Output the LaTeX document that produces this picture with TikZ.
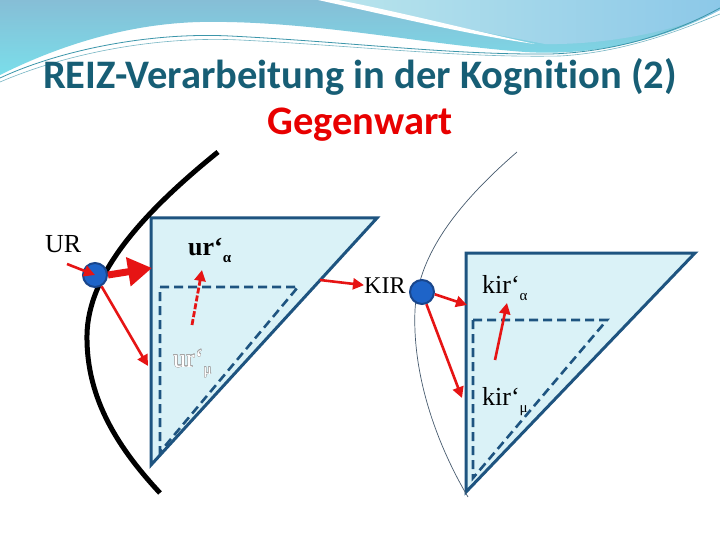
\documentclass[tikz,border=0pt]{standalone}
\usepackage{fontspec}
\setmainfont{Liberation Serif}
\newfontfamily\titlefont[Ligatures={NoCommon}]{Carlito}
\usepackage{contour}
\contourlength{0.35pt}
\usetikzlibrary{arrows.meta}
\definecolor{titleblue}{RGB}{23,94,117}
\definecolor{titlered}{RGB}{232,0,0}
\definecolor{tridraw}{RGB}{30,84,128}
\definecolor{trifill}{RGB}{218,242,247}
\definecolor{redarr}{RGB}{230,20,20}
\definecolor{dotfill}{RGB}{30,100,200}
\definecolor{dotdraw}{RGB}{25,70,140}
\definecolor{hdrA}{RGB}{134,190,214}
\definecolor{hdrB}{RGB}{122,222,234}
\definecolor{hdrC}{RGB}{184,228,236}
\definecolor{hdrD}{RGB}{140,200,232}
\definecolor{hdrline}{RGB}{60,150,170}
\definecolor{thincurve}{RGB}{70,90,110}
\newcommand{\lbl}[3]{{#1}\raisebox{-7pt}{\fontsize{#2}{#2}\selectfont #3}}
\begin{document}
\begin{tikzpicture}[x=1pt,y=-1pt,
  tri/.style={draw=tridraw,line width=3pt,fill=trifill,line join=miter},
  tridash/.style={draw=tridraw,line width=2.6pt,dash pattern=on 9pt off 5pt},
  arr/.style={draw=redarr,line width=2.6pt,-{Triangle[length=11pt,width=11pt]}},
  bigarr/.style={draw=redarr,line width=7pt,arrows={-Triangle[length=24pt 0, width=28pt 0]}},
  dasharr/.style={draw=redarr,line width=2.8pt,dash pattern=on 6pt off 2pt,-{Triangle[length=11pt,width=11pt]}},
  dot/.style={circle,fill=dotfill,draw=dotdraw,line width=2pt,minimum size=24pt,inner sep=0pt},
  lab/.style={inner sep=0pt,anchor=base west,font=\fontsize{26}{30}\selectfont},
  ttl/.style={inner sep=0pt,anchor=base,font=\titlefont\bfseries\fontsize{40.5}{44}\selectfont}
]
\useasboundingbox (0,0) rectangle (720,540);
\fill[white] (0,0) rectangle (720,540);

% header
\shade[top color=hdrA,bottom color=hdrB]
  (0,0) -- (720,0) -- (720,10) .. controls (660,42) and (590,56) .. (525,52)
  .. controls (420,44) and (310,20) .. (200,22) .. controls (120,24) and (50,50) .. (0,75) -- cycle;
\shade[left color=hdrC,right color=hdrD]
  (335,0) -- (720,0) -- (720,10) .. controls (680,30) and (610,45) .. (545,44)
  .. controls (470,30) and (400,15) .. (335,0) -- cycle;
\fill[white] (318,0) .. controls (400,18) and (470,35) .. (535,44)
  .. controls (470,30) and (400,12) .. (338,0) -- cycle;
\draw[hdrline,line width=0.8pt] (0,78) .. controls (60,50) and (150,32) .. (230,36)
  .. controls (350,42) and (450,55) .. (550,54) .. controls (620,52) and (680,30) .. (720,8);
\draw[hdrline!70,line width=0.6pt] (0,82) .. controls (70,52) and (160,36) .. (240,40)
  .. controls (360,46) and (460,58) .. (560,56) .. controls (630,52) and (690,26) .. (720,14);

% title
\node[ttl,text=titleblue] (title) at (360,89) {REIZ-Verarbeitung in der Kognition (2)};
\node[ttl,text=titlered] (sub) at (360,135) {Gegenwart};

% left triangle
\coordinate (LA) at (151,218);
\coordinate (LB) at (377,218);
\coordinate (LC) at (151,465);
\draw[tri] (LA) -- (LB) -- (LC) -- cycle;
\draw[tridash] (160,287) -- (298,287) -- (160,452) -- cycle;

% right triangle
\coordinate (RA) at (466,253);
\coordinate (RB) at (695,253);
\coordinate (RC) at (466,492);
\draw[tri] (RA) -- (RB) -- (RC) -- cycle;
\draw[tridash] (473,320) -- (607,320) -- (473,478) -- cycle;

% curves
\draw[black,line width=5pt] (218,152) .. controls (140,215) and (88,275) .. (87,335)
  .. controls (86,400) and (120,450) .. (160,493);
\draw[thincurve,line width=0.7pt] (517,152) .. controls (450,210) and (418,260) .. (415,310)
  .. controls (412,380) and (440,450) .. (468,497);

% dots
\node[dot] (urc) at (95,275) {};
\node[dot] (kirc) at (422,292) {};

% labels
\node[lab] (ur) at (45,252) {UR};
\node[lab] (ura) at (188,255) {\textbf{\lbl{ur‘}{15}{α}}};
\node[lab,text=white] (urm) at (173,367) {\contour{gray!70}{\lbl{ur‘}{15}{μ}}};
\node[lab,font=\fontsize{24}{28}\selectfont] (kir) at (364,293) {KIR};
\node[lab] (kira) at (482,293) {\lbl{kir‘}{15}{α}};
\node[lab] (kirm) at (482,405) {\lbl{kir‘}{15}{μ}};

% arrow end points
\coordinate (urin) at (67,264);
\coordinate (t1) at (152,268);
\coordinate (t2) at (148,366);
\coordinate (d1s) at (192,325);
\coordinate (d1e) at (202,270);
\coordinate (k1s) at (320,280);
\coordinate (t3) at (467,305);
\coordinate (t4) at (462,398);
\coordinate (d2s) at (495,360);
\coordinate (d2e) at (507,303);

% arrows
\draw[arr] (urin) -- (urc.center);
\draw[bigarr] (urc.east) -- (t1);
\draw[arr] (urc.-60) -- (t2);
\draw[dasharr] (d1s) -- (d1e);
\draw[arr] (k1s) -- (kir.west);
\draw[arr] (kirc.-10) -- (t3);
\draw[arr] (kirc.-70) -- (t4);
\draw[arr] (d2s) -- (d2e);
\end{tikzpicture}
\end{document}
